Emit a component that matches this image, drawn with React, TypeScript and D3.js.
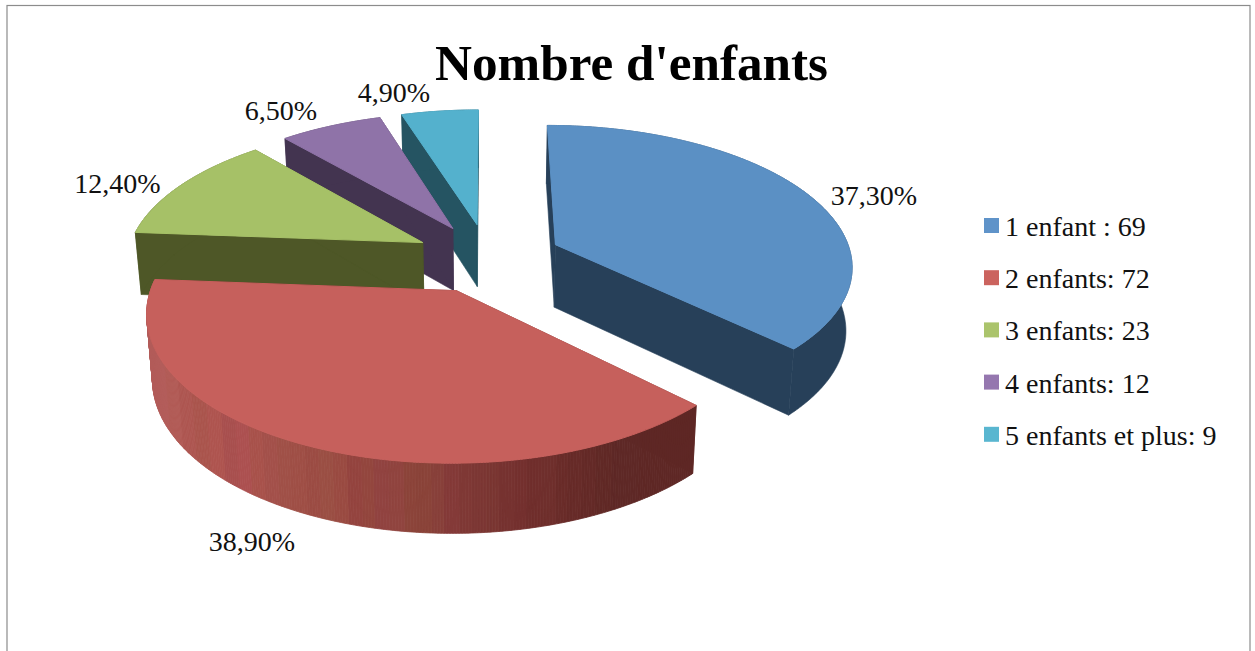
import React from "react";
import * as d3 from "d3";

const title = "Nombre d'enfants";
const categories = ["1 enfant : 69", "2 enfants: 72", "3 enfants: 23", "4 enfants: 12", "5 enfants et plus: 9"];
const counts = [69, 72, 23, 12, 9];
const percentLabels = ["37,30%", "38,90%", "12,40%", "6,50%", "4,90%"];
const topColors = ["#5b90c4", "#c6605c", "#a6c167", "#8f73a8", "#54b1cd"];
const legendColors = ["#5f93c9", "#cb635e", "#abc46c", "#9577af", "#59b6d0"];
const wallColors = ["#274059", "#5f2926", "#4e5727", "#433450", "#255462"];
const redBands = ["#b25c59", "#b15a55", "#ad5550", "#aa544c", "#ae544f", "#a84f4e", "#ac5050", "#a8524b", "#a3504a", "#a05047", "#9f4f46", "#9c4c44", "#9b4f44", "#9a4b42", "#94443f", "#93463e", "#914340", "#90443f", "#8c443a", "#8a4339", "#88403a", "#843a38", "#7f3835", "#7c3734", "#7a3632", "#763230", "#74302e", "#702e2c", "#6f2f2c", "#6a2c29", "#672b28", "#642a27", "#612926", "#5e2826", "#5e2826", "#5e2725", "#5e2725", "#5e2725", "#5e2725"];
const labelPos = [[874, 205], [252, 551], [117.5, 193], [281, 120], [394, 102]];

const W = 1255, H = 651;
const cx = 488, cy = 258, R = 296.5, A = 139, k = 0.137, explode = 0.25;
const project = (u: number, v: number): [number, number] => {
  const d = 1 - k * v;
  return [cx + (R * u) / d, cy + (A * v) / d];
};
const drop = ([x, y]: [number, number]): [number, number] => [
  cx + 0.983 * (x - cx),
  y + 63 + 0.035 * (y - cy),
];
const line = d3.line<[number, number]>().curve(d3.curveLinear);
const poly = (pts: [number, number][]) => line(pts) + "Z";

const pieGen = d3.pie<number>().sort(null).startAngle(0).endAngle(2 * Math.PI);
const arcs = pieGen(counts);
const bandScale = d3.scaleQuantize<string>().domain([150, 695]).range(redBands);

function slice(i: number) {
  const a = arcs[i];
  const mid = (a.startAngle + a.endAngle) / 2;
  const ou = Math.sin(mid) * explode, ov = -Math.cos(mid) * explode;
  const at = (t: number) => project(ou + Math.sin(t), ov - Math.cos(t));
  const apex = project(ou, ov);
  const n = Math.max(8, Math.round(((a.endAngle - a.startAngle) * 360) / Math.PI));
  const angles = d3.range(n + 1).map((j) => a.startAngle + ((a.endAngle - a.startAngle) * j) / n);
  const rim = angles.map(at);
  return { apex, rim };
}

const rimPath = (rim: [number, number][]) => poly([...rim, ...rim.map(drop).reverse()]);

const order = [4, 3, 2, 0, 1];
const font = "'Liberation Serif', serif";

export default function App() {
  return (
    <svg width={W} height={H} style={{ position: "absolute", left: 0, top: 0, background: "#fff" }}>
      <rect x={7} y={5.5} width={1243} height={H + 20} fill="#fff" stroke="#8c8c8c" strokeWidth={1.2} />
      {order.map((i) => {
        const { apex, rim } = slice(i);
        const first = rim[0], last = rim[rim.length - 1];
        return (
          <g key={i}>
            <path d={poly([apex, first, drop(first), drop(apex)])} fill={wallColors[i]} stroke={wallColors[i]} strokeWidth={0.6} />
            <path d={poly([apex, last, drop(last), drop(apex)])} fill={wallColors[i]} stroke={wallColors[i]} strokeWidth={0.6} />
            {i === 1 ? (
              d3.pairs(rim).map(([p, q], j) => {
                const c = bandScale((p[0] + q[0]) / 2);
                return <path key={j} d={rimPath([p, q])} fill={c} stroke={c} strokeWidth={0.8} />;
              })
            ) : (
              <path d={rimPath(rim)} fill={wallColors[i]} stroke={wallColors[i]} strokeWidth={0.6} />
            )}
            <path d={poly([apex, ...rim])} fill={topColors[i]} stroke={topColors[i]} strokeWidth={1} />
          </g>
        );
      })}
      <text x={631.5} y={80} textAnchor="middle" fontFamily={font} fontWeight={700} fontSize={51.2} fill="#000">{title}</text>
      {percentLabels.map((t, i) => (
        <text key={t} x={labelPos[i][0]} y={labelPos[i][1]} textAnchor="middle" fontFamily={font} fontSize={28} fill="#111">{t}</text>
      ))}
      {categories.map((t, i) => (
        <g key={t} transform={`translate(984,${218 + i * 52.2})`}>
          <rect width={15} height={15} fill={legendColors[i]} />
          <text x={21} y={18} fontFamily={font} fontSize={28} fill="#111">{t}</text>
        </g>
      ))}
    </svg>
  );
}
